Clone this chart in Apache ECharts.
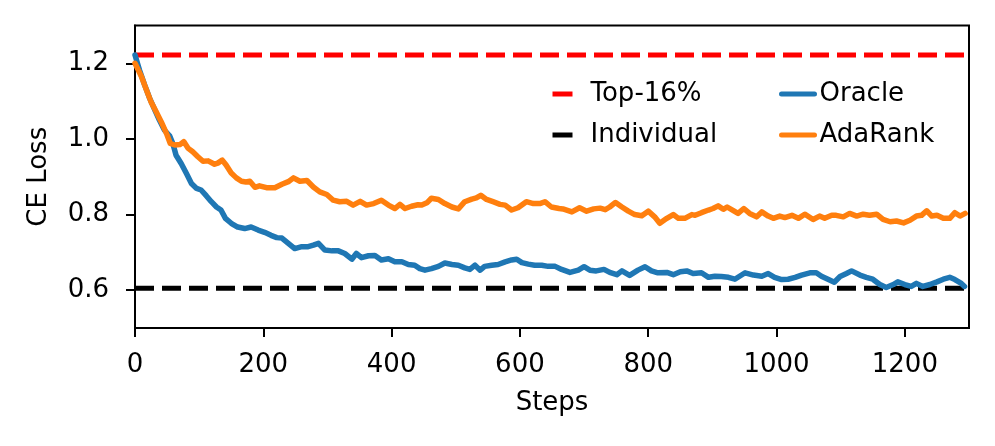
<!DOCTYPE html>
<html>
<head>
<meta charset="utf-8">
<script src="https://cdn.jsdelivr.net/npm/echarts@6/dist/echarts.min.js"></script>
<style>
html,body{margin:0;padding:0;background:#fff;}
#chart{width:995px;height:446px;}
</style>
</head>
<body>
<div id="chart"></div>
<script>
// ---- data ----
const xTicks = [0, 200, 400, 600, 800, 1000, 1200];
const yTicks = [0.6, 0.8, 1.0, 1.2];

const top16Value = 1.222;
const individualValue = 0.605;
const baselineSteps = [0, 1300];

const oracleSteps = [0,7,15,23,31,38,46,54,59,64,72,80,88,96,103,111,119,127,134,141,150,160,171,181,192,202,212,221,229,239,249,260,270,278,286,296,307,317,327,338,345,353,364,374,384,395,405,416,426,436,444,452,462,473,483,494,504,514,522,530,538,545,556,566,577,587,595,603,613,623,634,644,655,665,678,691,700,709,719,731,740,751,759,771,784,795,805,815,829,839,850,860,870,883,894,904,914,925,935,951,964,977,987,997,1008,1018,1029,1039,1052,1062,1070,1081,1090,1099,1109,1117,1130,1140,1150,1161,1171,1182,1189,1200,1210,1218,1228,1239,1250,1260,1270,1278,1288,1293];
const oracleLoss = [1.222,1.182,1.143,1.107,1.076,1.050,1.023,1.008,0.988,0.957,0.935,0.909,0.882,0.869,0.865,0.850,0.834,0.820,0.812,0.790,0.777,0.767,0.763,0.767,0.759,0.753,0.745,0.739,0.738,0.724,0.710,0.715,0.715,0.719,0.724,0.706,0.704,0.704,0.697,0.682,0.697,0.686,0.691,0.692,0.680,0.683,0.675,0.675,0.668,0.666,0.657,0.653,0.657,0.663,0.672,0.668,0.666,0.659,0.655,0.666,0.653,0.663,0.666,0.668,0.675,0.680,0.682,0.673,0.669,0.666,0.666,0.663,0.663,0.655,0.647,0.653,0.662,0.653,0.651,0.655,0.647,0.641,0.651,0.639,0.653,0.662,0.651,0.646,0.647,0.641,0.649,0.651,0.644,0.646,0.634,0.637,0.636,0.634,0.629,0.646,0.640,0.637,0.644,0.634,0.628,0.629,0.634,0.640,0.646,0.646,0.637,0.628,0.621,0.636,0.644,0.651,0.640,0.634,0.629,0.615,0.607,0.615,0.622,0.615,0.610,0.618,0.610,0.615,0.622,0.629,0.634,0.628,0.618,0.610];

const adarankSteps = [0,3,10,18,25,33,41,49,55,62,70,76,83,90,98,106,114,124,129,136,142,150,158,166,173,179,187,194,205,218,229,239,247,257,268,278,288,299,309,319,330,340,351,361,372,384,395,405,413,421,431,441,447,455,462,473,483,494,504,514,525,532,539,548,558,569,577,587,597,610,621,631,639,649,661,667,681,693,704,715,725,733,740,749,759,769,779,790,800,810,818,829,839,847,857,868,873,883,894,901,909,917,923,932,940,949,958,969,977,987,995,1005,1013,1024,1034,1044,1057,1067,1075,1086,1093,1104,1114,1125,1135,1145,1156,1166,1177,1187,1198,1208,1218,1226,1234,1242,1250,1260,1270,1278,1286,1294];
const adarankLoss = [1.200,1.196,1.165,1.129,1.098,1.072,1.045,1.015,0.988,0.984,0.985,0.993,0.975,0.966,0.953,0.941,0.942,0.933,0.936,0.944,0.931,0.910,0.897,0.888,0.886,0.888,0.872,0.876,0.871,0.871,0.880,0.887,0.897,0.888,0.890,0.873,0.860,0.853,0.838,0.834,0.835,0.825,0.835,0.825,0.829,0.838,0.825,0.816,0.827,0.816,0.822,0.826,0.825,0.831,0.843,0.840,0.829,0.820,0.815,0.834,0.841,0.844,0.851,0.840,0.834,0.827,0.825,0.812,0.818,0.834,0.829,0.829,0.834,0.820,0.816,0.815,0.807,0.818,0.809,0.815,0.817,0.813,0.820,0.832,0.820,0.809,0.800,0.797,0.809,0.794,0.777,0.790,0.800,0.790,0.790,0.800,0.798,0.805,0.812,0.816,0.823,0.814,0.820,0.811,0.803,0.816,0.803,0.794,0.807,0.796,0.790,0.796,0.792,0.798,0.790,0.801,0.787,0.796,0.790,0.798,0.798,0.794,0.803,0.796,0.801,0.798,0.801,0.787,0.781,0.783,0.778,0.785,0.796,0.798,0.810,0.796,0.798,0.790,0.790,0.805,0.796,0.803];

// ---- chart ----
const FONT = 'DejaVu Sans';
const zip = (xs, ys) => xs.map((x, i) => [x, ys[i]]);
const flat = (xs, v) => xs.map(x => [x, v]);

const RED = '#ff0000', BLACK = '#000000', BLUE = '#1f77b4', ORANGE = '#ff7f0e';

const chart = echarts.init(document.getElementById('chart'), null, {renderer: 'canvas'});
const legendBase = {
  orient: 'vertical', top: 79, padding: 0, itemWidth: 33, itemHeight: 30, itemGap: 11,
  itemStyle: {opacity: 0},
  textStyle: {fontFamily: FONT, fontSize: 26, color: '#000', lineHeight: 30},
  selectedMode: false
};
const legItem = (name, color, dashed) => ({
  name: name,
  lineStyle: {width: 5, color: color, type: dashed ? [20, 14] : 'solid'}
});
chart.setOption({
  animation: false,
  backgroundColor: '#fff',
  grid: {left: 135, top: 25.5, right: 26, bottom: 118, show: true, borderColor: '#000', borderWidth: 2, backgroundColor: 'transparent'},
  legend: [
    Object.assign({}, legendBase, {left: 550, data: [legItem('Top-16%', RED, true), legItem('Individual', BLACK, true)]}),
    Object.assign({}, legendBase, {left: 779, data: [legItem('Oracle', BLUE, false), legItem('AdaRank', ORANGE, false)]})
  ],
  xAxis: {
    type: 'value', min: 0, max: 1300,
    name: 'Steps', nameLocation: 'middle', nameGap: 62,
    nameTextStyle: {fontFamily: FONT, fontSize: 26, color: '#000'},
    axisLine: {show: true, onZero: false, lineStyle: {color: '#000', width: 2}},
    axisTick: {show: true, length: 9, customValues: xTicks, lineStyle: {color: '#000', width: 2}},
    axisLabel: {customValues: xTicks, fontFamily: FONT, fontSize: 26, color: '#000', margin: 24,
      formatter: v => String(v)},
    splitLine: {show: false}
  },
  yAxis: {
    type: 'value', min: 0.5, max: 1.3,
    name: 'CE Loss', nameLocation: 'middle', nameGap: 83, nameRotate: 90,
    nameTextStyle: {fontFamily: FONT, fontSize: 26, color: '#000'},
    axisLine: {show: true, onZero: false, lineStyle: {color: '#000', width: 2}},
    axisTick: {show: true, length: 9, customValues: yTicks, lineStyle: {color: '#000', width: 2}},
    axisLabel: {customValues: yTicks, fontFamily: FONT, fontSize: 26, color: '#000', margin: 26,
      formatter: v => Number(v).toFixed(1)},
    splitLine: {show: false}
  },
  series: [
    {name: 'Top-16%', type: 'line', symbol: 'none', data: flat(baselineSteps, top16Value),
      lineStyle: {color: RED, width: 5, type: [19, 8]}, itemStyle: {color: RED}},
    {name: 'Individual', type: 'line', symbol: 'none', data: flat(baselineSteps, individualValue),
      lineStyle: {color: BLACK, width: 5, type: [19, 8]}, itemStyle: {color: BLACK}},
    {name: 'Oracle', type: 'line', symbol: 'none', data: zip(oracleSteps, oracleLoss),
      lineStyle: {color: BLUE, width: 5.5, join: 'round', cap: 'round'}, itemStyle: {color: BLUE}},
    {name: 'AdaRank', type: 'line', symbol: 'none', data: zip(adarankSteps, adarankLoss),
      lineStyle: {color: ORANGE, width: 5.5, join: 'round', cap: 'round'}, itemStyle: {color: ORANGE}}
  ]
});
</script>
</body>
</html>
